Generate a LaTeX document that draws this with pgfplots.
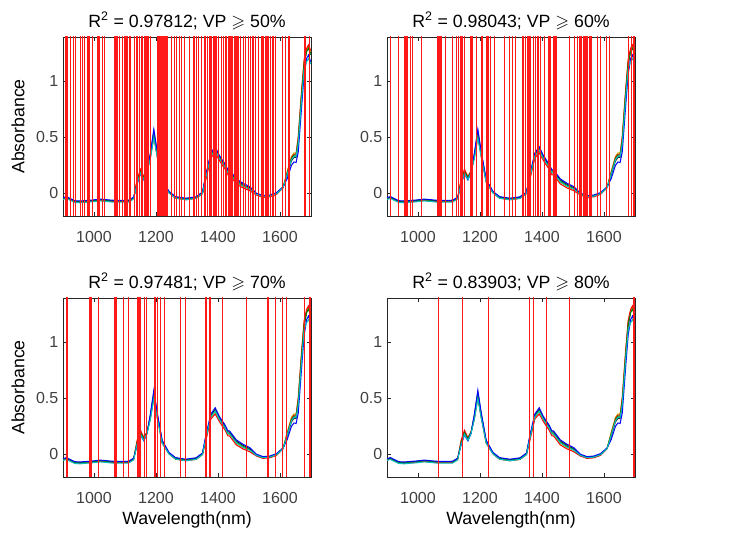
\documentclass[border=0pt]{standalone}
\usepackage{amssymb}
\usepackage{pgfplots}
\pgfplotsset{compat=1.18}
\usepackage{pgfplotstable}
\usepackage{fontspec}
\setmainfont{Liberation Sans}

\definecolor{mblue}{rgb}{0,0,1}
\definecolor{mred}{rgb}{1,0,0}
\definecolor{mgreen}{rgb}{0,0.5,0}
\definecolor{mcyan}{rgb}{0,0.75,0.75}
\definecolor{molive}{rgb}{0.75,0.75,0}
\definecolor{mblack}{rgb}{0.15,0.15,0.15}
\definecolor{selred}{rgb}{1,0.1,0.1}

\pgfplotstableread{
x b r g k o c
900 -0.037 -0.049 -0.043 -0.041 -0.047 -0.053
911 -0.028 -0.040 -0.034 -0.032 -0.038 -0.044
925 -0.047 -0.059 -0.053 -0.051 -0.057 -0.063
938 -0.064 -0.076 -0.070 -0.068 -0.074 -0.080
955 -0.067 -0.079 -0.073 -0.071 -0.077 -0.083
971 -0.063 -0.075 -0.069 -0.067 -0.073 -0.079
995 -0.058 -0.070 -0.064 -0.062 -0.068 -0.074
1020 -0.050 -0.062 -0.056 -0.054 -0.060 -0.066
1040 -0.055 -0.067 -0.061 -0.059 -0.065 -0.071
1058 -0.060 -0.072 -0.066 -0.064 -0.070 -0.076
1085 -0.061 -0.073 -0.067 -0.065 -0.071 -0.077
1112 -0.060 -0.072 -0.066 -0.064 -0.070 -0.076
1128 -0.032 -0.044 -0.038 -0.036 -0.042 -0.048
1139 0.085 0.125 0.105 0.095 0.115 0.090
1150 0.175 0.215 0.195 0.185 0.205 0.180
1161 0.120 0.150 0.140 0.130 0.145 0.125
1171 0.185 0.200 0.195 0.192 0.198 0.185
1182 0.360 0.318 0.340 0.350 0.330 0.312
1193 0.570 0.505 0.530 0.550 0.520 0.495
1204 0.370 0.328 0.348 0.360 0.340 0.322
1220 0.125 0.100 0.112 0.118 0.106 0.100
1242 0.018 0.004 0.010 0.014 0.007 0.004
1263 -0.028 -0.042 -0.036 -0.032 -0.039 -0.042
1296 -0.042 -0.056 -0.050 -0.046 -0.053 -0.056
1329 -0.030 -0.044 -0.038 -0.034 -0.041 -0.044
1350 0.013 -0.001 0.005 0.009 0.002 -0.001
1361 0.170 0.125 0.150 0.160 0.140 0.144
1377 0.360 0.315 0.340 0.350 0.330 0.334
1391 0.415 0.360 0.390 0.402 0.380 0.384
1404 0.340 0.295 0.320 0.330 0.310 0.314
1413 0.300 0.255 0.280 0.290 0.270 0.274
1421 0.270 0.225 0.250 0.260 0.240 0.244
1432 0.210 0.165 0.190 0.200 0.180 0.184
1437 0.210 0.165 0.190 0.200 0.180 0.184
1459 0.130 0.085 0.110 0.120 0.100 0.104
1480 0.092 0.050 0.072 0.082 0.062 0.066
1502 0.062 0.025 0.045 0.053 0.037 0.040
1524 0.002 -0.014 -0.006 -0.002 -0.010 -0.008
1545 -0.019 -0.035 -0.027 -0.023 -0.031 -0.029
1567 -0.014 -0.030 -0.022 -0.018 -0.026 -0.024
1589 0.008 -0.008 0.000 0.004 -0.004 -0.002
1610 0.058 0.050 0.056 0.056 0.054 0.052
1623 0.130 0.185 0.175 0.160 0.195 0.170
1637 0.250 0.320 0.310 0.290 0.330 0.300
1645 0.280 0.350 0.340 0.320 0.360 0.330
1652 0.275 0.350 0.340 0.320 0.360 0.330
1659 0.370 0.510 0.475 0.455 0.495 0.445
1670 0.780 0.930 0.890 0.870 0.910 0.850
1678 1.060 1.190 1.160 1.140 1.180 1.110
1686 1.200 1.290 1.260 1.270 1.280 1.170
1692 1.230 1.320 1.290 1.300 1.310 1.200
1699 1.170 1.270 1.230 1.250 1.260 1.150
}\spectra

% selected wavelengths, VP >= 50%
\pgfplotstableread{
x
908
913
924
935
940
957
962
970
978
984
995
1011
1016
1027
1033
1065
1071
1076
1081
1092
1098
1103
1109
1114
1119
1130
1136
1141
1146
1152
1157
1163
1168
1174
1182
1206
1207
1208
1209
1210
1211
1212
1213
1214
1215
1216
1217
1218
1219
1220
1221
1222
1223
1224
1225
1226
1227
1228
1229
1230
1231
1232
1233
1234
1235
1236
1249
1260
1266
1277
1282
1293
1309
1320
1325
1331
1336
1347
1358
1366
1374
1380
1385
1390
1396
1401
1410
1417
1423
1428
1434
1439
1445
1455
1461
1466
1472
1482
1488
1499
1504
1510
1515
1520
1531
1542
1548
1553
1558
1564
1569
1575
1580
1586
1607
1618
1629
1678
1683
1694
}\selA

% VP >= 60%
\pgfplotstableread{
x
911
936
958
962
965
976
982
1011
1063
1068
1074
1088
1112
1123
1131
1139
1144
1150
1171
1177
1188
1204
1209
1220
1226
1233
1247
1280
1296
1304
1314
1339
1347
1352
1358
1363
1372
1380
1387
1394
1409
1420
1426
1439
1445
1488
1504
1515
1520
1526
1535
1539
1545
1553
1558
1580
1589
1607
1618
1678
1688
1697
}\selB

% VP >= 70%
\pgfplotstableread{
x
913
987
991
1014
1068
1072
1095
1112
1141
1143
1146
1150
1163
1169
1197
1206
1215
1228
1280
1296
1361
1374
1415
1491
1561
1585
1609
1620
1680
1697
}\selC

% VP >= 80%
\pgfplotstableread{
x
1066
1144
1227
1359
1372
1414
1489
1697
}\selD

\pgfplotsset{
  panel/.style={
    scale only axis,
    width=186pt, height=134.25pt,
    anchor=south west,
    xmin=900, xmax=1700, ymin=-0.2, ymax=1.39,
    xtick={1000,1200,1400,1600},
    ytick={0,0.5,1},
    tick align=inside,
    axis line style={black!85, line width=0.5pt},
    tick style={black!85, line width=0.5pt},
    major tick length=3pt,
    /pgf/number format/assume math mode=true,
    /pgf/number format/1000 sep={},
    ticklabel style={font=\fontsize{12}{14}\selectfont, text=black!75},
    xticklabel style={yshift=-8pt},
    title style={font=\fontsize{13.3}{15}\selectfont, text=black, yshift=-4pt},
    xlabel style={font=\fontsize{13.3}{15}\selectfont, at={(axis description cs:0.5,-0.24)}, anchor=center},
    ylabel style={font=\fontsize{13.3}{15}\selectfont, at={(axis description cs:-0.181,0.5)}, anchor=center, rotate=0},
  },
  sel/.style={draw=selred, line width=0.9pt, ycomb, mark=none},
}

\newcommand\spectraplots{%
  \addplot[mblack, line width=0.75pt] table[x=x,y=k]{\spectra};
  \addplot[molive, line width=0.75pt] table[x=x,y=o]{\spectra};
  \addplot[mred, line width=0.75pt] table[x=x,y=r]{\spectra};
  \addplot[mgreen, line width=0.75pt] table[x=x,y=g]{\spectra};
  \addplot[mblue, line width=0.75pt] table[x=x,y=b]{\spectra};
  \addplot[mcyan, line width=0.75pt] table[x=x,y=c]{\spectra};
}
\newcommand\selplots[1]{%
  \addplot[sel] table[x index=0, y index=0, y expr=1.6]{#1};
  \addplot[sel] table[x index=0, y index=0, y expr=-0.5]{#1};
}

\begin{document}
\begin{tikzpicture}
\useasboundingbox (0,0) rectangle (560.25pt,403.5pt);

\begin{axis}[panel, at={(47.25pt,241.5pt)},
  title={R\textsuperscript{2} = 0.97812; VP $\geqslant$ 50\%},
  ylabel={Absorbance}]
\spectraplots
\selplots{\selA}
\end{axis}

\begin{axis}[panel, at={(290.25pt,241.5pt)},
  title={R\textsuperscript{2} = 0.98043; VP $\geqslant$ 60\%}]
\spectraplots
\selplots{\selB}
\end{axis}

\begin{axis}[panel, at={(47.25pt,45.75pt)},
  title={R\textsuperscript{2} = 0.97481; VP $\geqslant$ 70\%},
  ylabel={Absorbance}, xlabel={Wavelength(nm)}]
\spectraplots
\selplots{\selC}
\end{axis}

\begin{axis}[panel, at={(290.25pt,45.75pt)},
  title={R\textsuperscript{2} = 0.83903; VP $\geqslant$ 80\%},
  xlabel={Wavelength(nm)}]
\spectraplots
\selplots{\selD}
\end{axis}
\end{tikzpicture}
\end{document}
